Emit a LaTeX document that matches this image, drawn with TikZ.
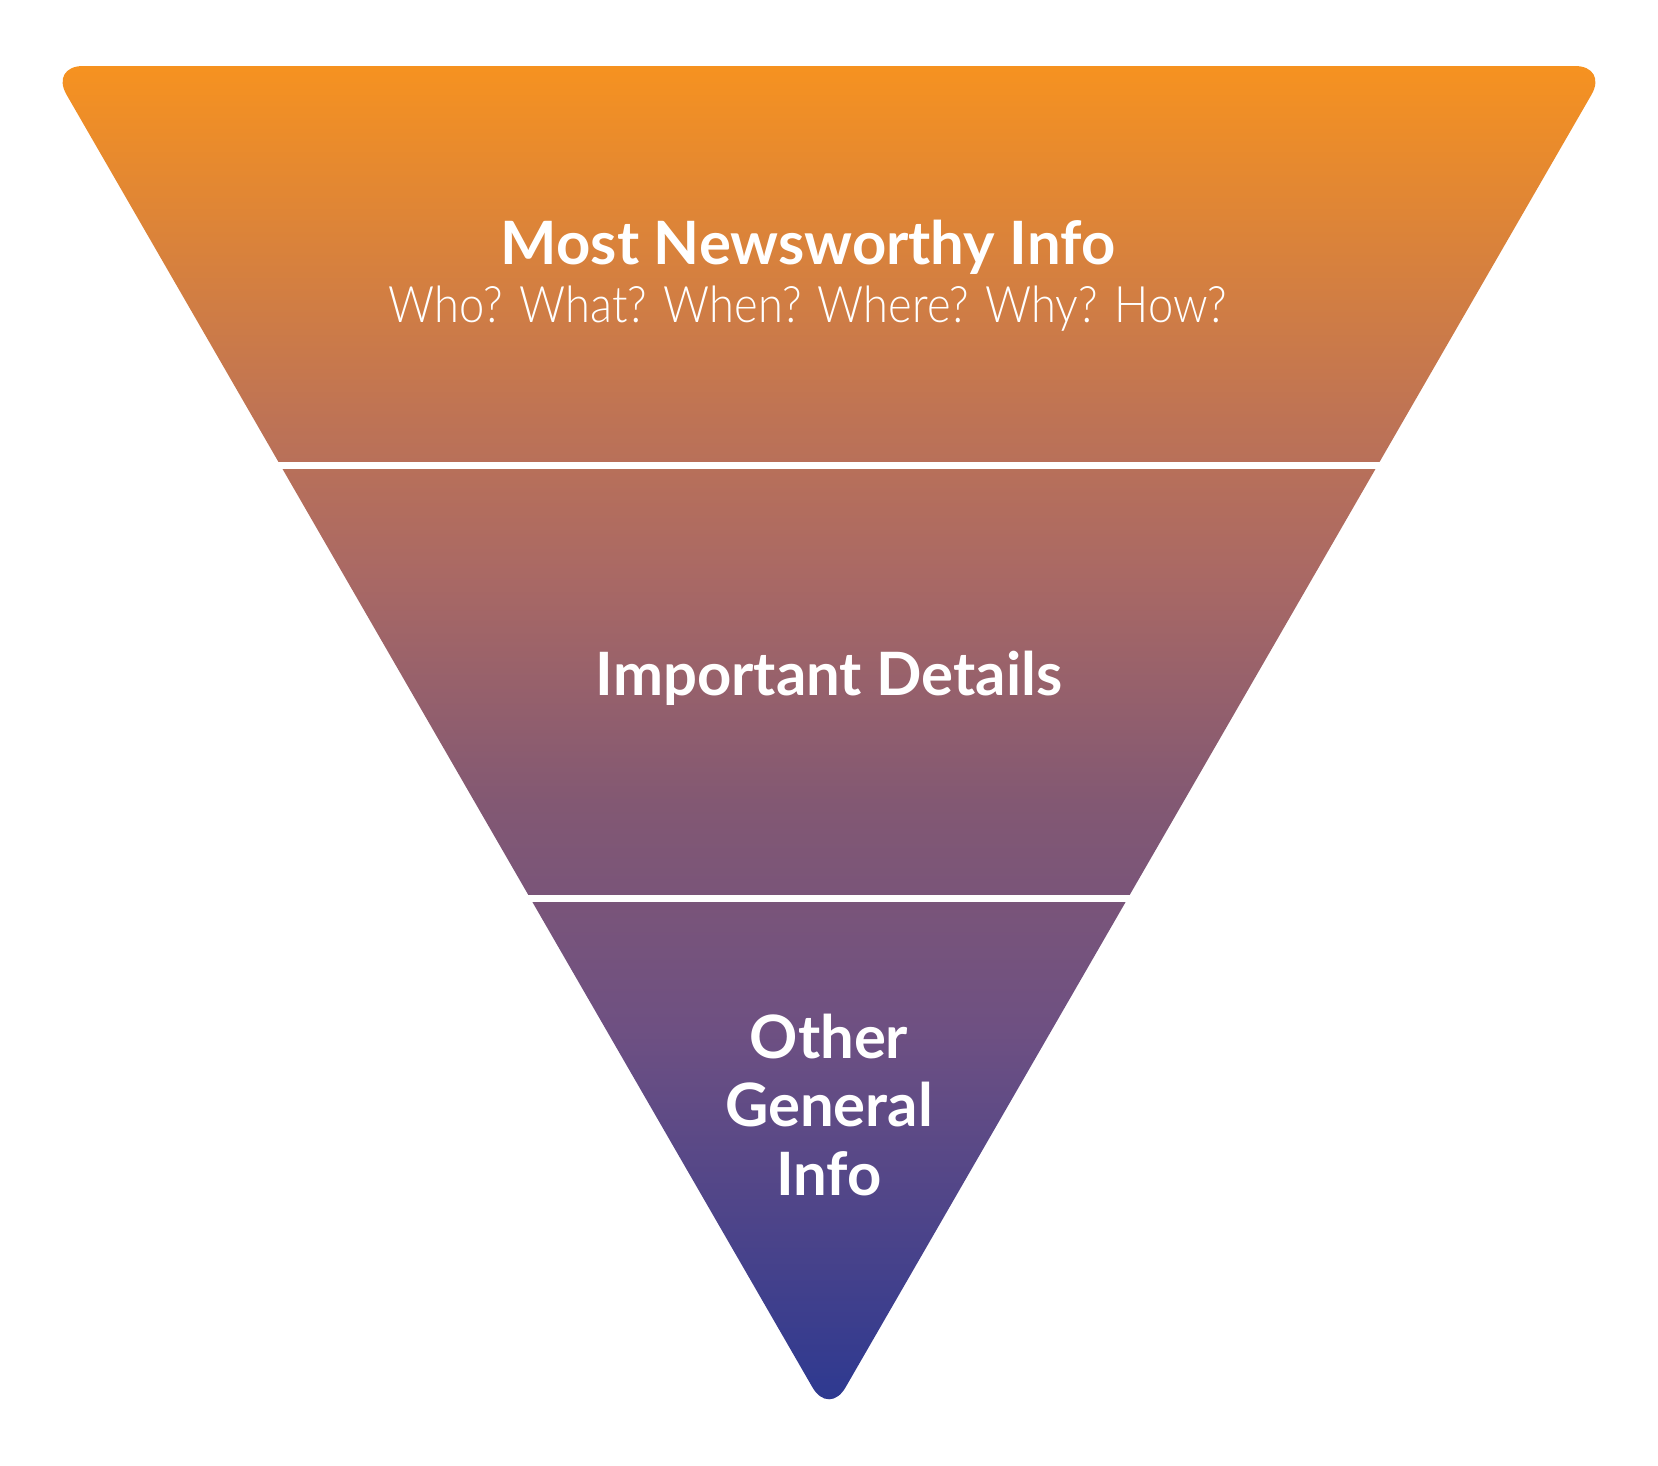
\documentclass[tikz,border=0pt]{standalone}
\usepackage{fontspec}
\setmainfont{Lato}
\newfontfamily\thinfont[FakeStretch=0.9]{Lato Light}
\usetikzlibrary{positioning}

% colours of the funnel
\definecolor{funnelTop}{RGB}{246,146,32}
\definecolor{funnelA}{RGB}{190,115,85}
\definecolor{funnelB}{RGB}{170,105,100}
\definecolor{funnelC}{RGB}{130,88,115}
\definecolor{funnelD}{RGB}{110,80,130}
\definecolor{funnelBottom}{RGB}{43,56,145}

\pgfdeclareverticalshading{funnelshade}{100bp}{%
  color(0bp)=(funnelBottom); color(25bp)=(funnelBottom);
  color(39.3bp)=(funnelD); color(47.6bp)=(funnelC);
  color(56.3bp)=(funnelB); color(61.9bp)=(funnelA);
  color(75bp)=(funnelTop); color(100bp)=(funnelTop)}

\begin{document}
\begin{tikzpicture}[x=0.01cm,y=-0.01cm,
    headline/.style={text=white,font=\bfseries\fontsize{17}{19.4}\selectfont,anchor=base},
    subline/.style={text=white,font=\thinfont\fontsize{14.3}{18}\selectfont,anchor=base},
    divider/.style={white,line width=0.07cm}]
  \useasboundingbox (0,0) rectangle (1658,1465);

  \pgfmathsetmacro{\slope}{0.5771}
  \pgfmathsetmacro{\mid}{829}

  % corners of the funnel
  \coordinate (tl) at (50,66);
  \coordinate (tr) at (1608,66);
  \coordinate (tip) at (829,1416);

  \shade[shading=funnelshade,rounded corners=0.33cm] (tl) -- (tr) -- (tip) -- cycle;

  % the two white cuts
  \foreach \y/\n in {465.5/one,898.7/two}
    {
      \pgfmathsetmacro{\xl}{50+(\y-66)*\slope-4}
      \pgfmathsetmacro{\xr}{2*\mid-\xl}
      \coordinate (\n L) at (\xl,\y);
      \coordinate (\n R) at (\xr,\y);
      \draw[divider] (\n L) -- (\n R);
    }

  \node[headline] (news) at (808,264) {Most Newsworthy Info};
  \node[subline] (questions) at (808,322) {Who? What? When? Where? Why? How?};
  \node[headline] (details) at (829,695) {Important Details};
  \node[headline,align=center] (general) at (829,1195) {Other\\General\\Info};
\end{tikzpicture}
\end{document}
